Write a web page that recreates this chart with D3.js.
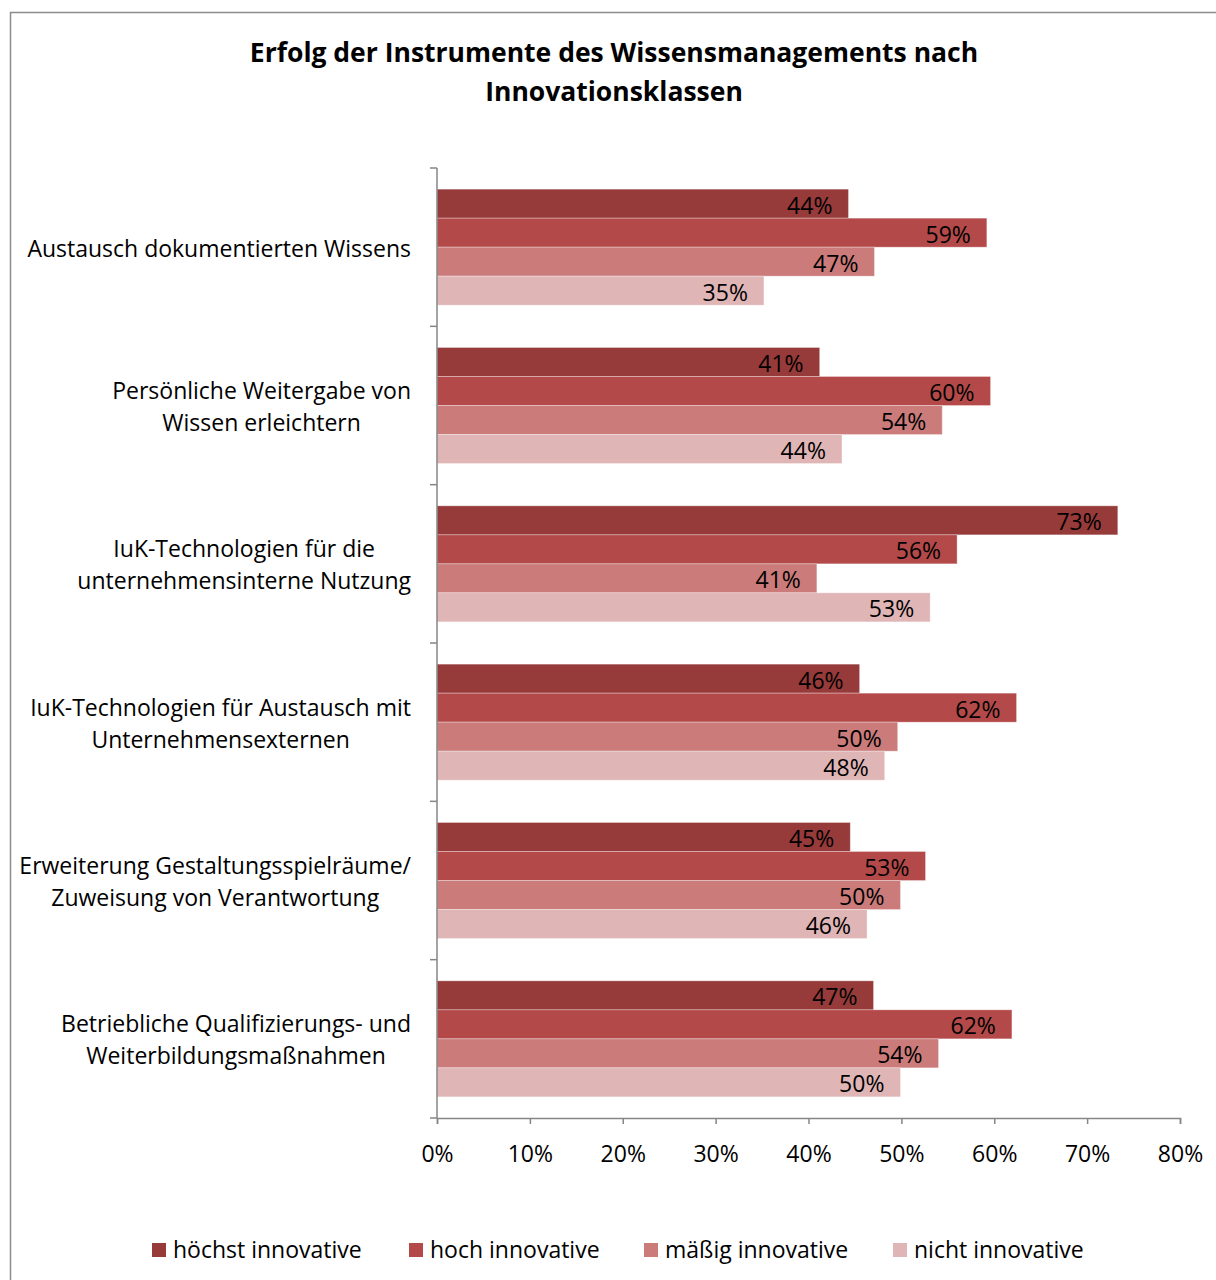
<!DOCTYPE html>
<html><head><meta charset="utf-8">
<script src="https://cdn.jsdelivr.net/npm/d3@7"></script>
<style>body{margin:0;background:#fff}</style>
</head><body>
<script>
const title = ["Erfolg der Instrumente des Wissensmanagements nach", "Innovationsklassen"];
const categories = [
  ["Austausch dokumentierten Wissens"],
  ["Persönliche Weitergabe von", "Wissen erleichtern"],
  ["IuK-Technologien für die", "unternehmensinterne Nutzung"],
  ["IuK-Technologien für Austausch mit", "Unternehmensexternen"],
  ["Erweiterung Gestaltungsspielräume/", "Zuweisung von Verantwortung"],
  ["Betriebliche Qualifizierungs- und", "Weiterbildungsmaßnahmen"]
];
const series = ["höchst innovative", "hoch innovative", "mäßig innovative", "nicht innovative"];
const colors = ["#963a3a", "#b34a49", "#ca7b7a", "#dfb5b5"];
const hoechst = [44.3, 41.2, 73.3, 45.5, 44.5, 47.0];
const hoch    = [59.2, 59.6, 56.0, 62.4, 52.6, 61.9];
const maessig = [47.1, 54.4, 40.9, 49.6, 49.9, 54.0];
const nicht   = [35.2, 43.6, 53.1, 48.2, 46.3, 49.9];
const valueSets = [hoechst, hoch, maessig, nicht];
const xTicks = [0, 10, 20, 30, 40, 50, 60, 70, 80];

const W = 1216, H = 1280;
const FONT = "'Open Sans', Lato, sans-serif";
const FS = 23;
const svg = d3.select("body").append("svg").attr("width", W).attr("height", H)
  .style("font-family", FONT);

svg.append("rect").attr("x", 10.5).attr("y", 12.5).attr("width", W + 20).attr("height", H + 20)
  .attr("fill", "#fff").attr("stroke", "#8c8c8c").attr("stroke-width", 1.5);

svg.append("g").selectAll("text").data(title).join("text")
  .attr("x", 614).attr("y", (d, i) => 62 + i * 39)
  .attr("text-anchor", "middle").attr("font-size", 26.5).attr("font-weight", "bold")
  .attr("fill", "#000").text(d => d);

const x = d3.scaleLinear().domain([0, 80]).range([437, 1180]);
const y = d3.scaleBand().domain(d3.range(categories.length)).range([168, 1118]);
const yi = d3.scaleBand().domain(d3.range(series.length)).range([0, y.bandwidth()]).paddingOuter(0.73);

// bars
const g = svg.append("g");
categories.forEach((c, ci) => {
  valueSets.forEach((vals, si) => {
    const v = vals[ci];
    const y0 = y(ci) + yi(si);
    g.append("rect").attr("x", x(0)).attr("y", y0).attr("width", x(v) - x(0)).attr("height", yi.bandwidth())
      .attr("fill", colors[si]).attr("stroke", "rgba(255,255,255,0.3)").attr("stroke-width", 1);
    g.append("text").attr("x", x(v) - 16).attr("y", y0 + yi.bandwidth() / 2 + 10)
      .attr("text-anchor", "end").attr("font-size", FS).attr("fill", "#000")
      .text(Math.round(v) + "%");
  });
});

// axes
const axisColor = "#868686";
const xAxis = svg.append("g").attr("transform", "translate(0,1118)")
  .call(d3.axisBottom(x).tickValues(xTicks).tickSize(6).tickFormat(d => d + "%"));
xAxis.select(".domain").attr("stroke", axisColor).attr("stroke-width", 1.5);
xAxis.selectAll(".tick line").attr("stroke", axisColor).attr("stroke-width", 1.5);
xAxis.selectAll(".tick text").attr("font-size", FS).attr("font-family", FONT)
  .attr("fill", "#000").attr("dy", 0).attr("y", 44);

const yAxis = svg.append("g").attr("transform", "translate(437,0)");
const yTickPos = d3.range(categories.length + 1).map(i => 168 + i * y.step());
yAxis.append("line").attr("x1", 0).attr("x2", 0).attr("y1", 168).attr("y2", 1118)
  .attr("stroke", axisColor).attr("stroke-width", 1.5);
yAxis.selectAll("line.t").data(yTickPos).join("line").attr("class", "t")
  .attr("x1", -7).attr("x2", 0).attr("y1", d => d).attr("y2", d => d)
  .attr("stroke", axisColor).attr("stroke-width", 1.5);

// category labels
categories.forEach((lines, ci) => {
  const cy = y(ci) + y.bandwidth() / 2;
  const lh = 32;
  const gl = svg.append("g");
  const texts = gl.selectAll("text").data(lines).join("text")
    .attr("y", (d, i) => cy + 9.5 + (i - (lines.length - 1) / 2) * lh)
    .attr("font-size", FS).attr("fill", "#000").attr("text-anchor", "middle").text(d => d);
  let maxW = 0;
  texts.each(function () { maxW = Math.max(maxW, this.getComputedTextLength()); });
  texts.attr("x", 411 - maxW / 2);
});

// legend
const legendX = [152, 409, 644, 893];
const lg = svg.append("g");
series.forEach((s, i) => {
  lg.append("rect").attr("x", legendX[i]).attr("y", 1243).attr("width", 14).attr("height", 14).attr("fill", colors[i]);
  lg.append("text").attr("x", legendX[i] + 21).attr("y", 1258).attr("font-size", FS).attr("fill", "#000").text(s);
});
</script>
</body></html>
